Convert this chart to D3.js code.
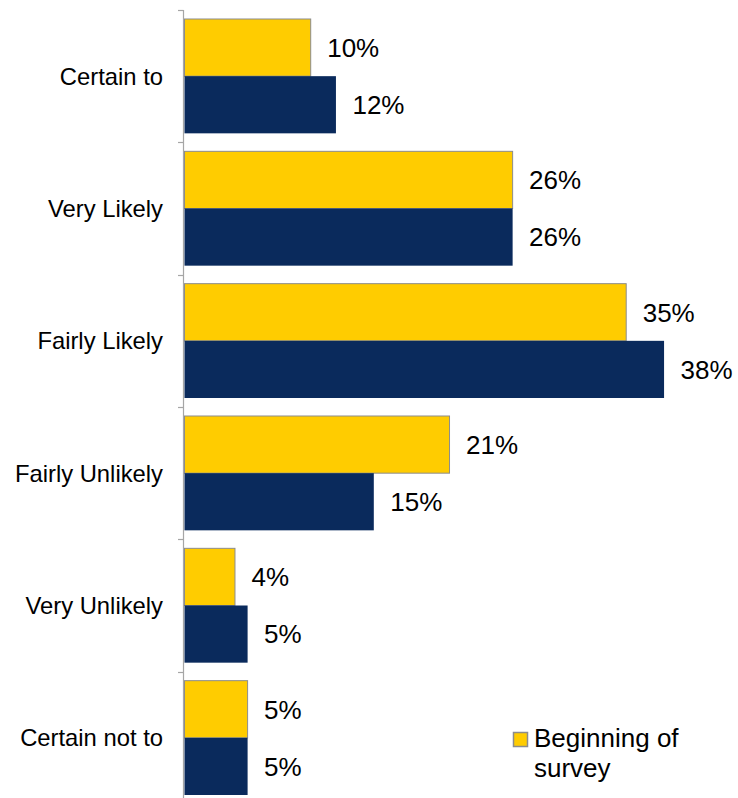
<!DOCTYPE html>
<html>
<head>
<meta charset="utf-8">
<script src="https://cdn.jsdelivr.net/npm/d3@7"></script>
<style>
  html, body { margin: 0; padding: 0; background: #fff; }
  svg { display: block; }
  text { font-family: "Liberation Sans", Arial, sans-serif; fill: #000; }
</style>
</head>
<body>
<svg id="chart" width="738" height="798"></svg>
<script>
const categories = ["Certain to", "Very Likely", "Fairly Likely", "Fairly Unlikely", "Very Unlikely", "Certain not to"];
const seriesNames = ["Beginning of survey", "End of survey"];
const beginningValues = [10, 26, 35, 21, 4, 5];
const endValues = [12, 26, 38, 15, 5, 5];
const seriesColors = ["#FFCC00", "#0A2A5C"];

const svg = d3.select("#chart");

const x = d3.scaleLinear().domain([0, 40]).range([184, 184 + 12.62 * 40]);
const y = d3.scaleBand().domain(categories).range([10, 804]).paddingInner(0.136).paddingOuter(0.068);
const ySub = d3.scaleBand().domain(seriesNames).range([0, y.bandwidth()]);

const data = categories.map((c, i) => ({
  cat: c,
  vals: [
    { s: seriesNames[0], v: beginningValues[i], color: seriesColors[0] },
    { s: seriesNames[1], v: endValues[i], color: seriesColors[1] }
  ]
}));

// Axis line with ticks at category boundaries
const axisX = 183.5;
const step = y.step();
const boundaries = d3.range(categories.length + 1).map(i => 10 + i * step);
svg.append("line")
  .attr("x1", axisX).attr("x2", axisX)
  .attr("y1", 10).attr("y2", 804)
  .attr("stroke", "#A6A6A6").attr("stroke-width", 1.2);
svg.selectAll(".tick").data(boundaries).join("line")
  .attr("x1", 178).attr("x2", axisX)
  .attr("y1", d => Math.round(d) + 0.5).attr("y2", d => Math.round(d) + 0.5)
  .attr("stroke", "#A6A6A6").attr("stroke-width", 1.2);

const groups = svg.selectAll(".grp").data(data).join("g")
  .attr("transform", d => `translate(0,${y(d.cat)})`);

groups.selectAll("rect").data(d => d.vals).join("rect")
  .attr("x", x(0) + 0.5)
  .attr("y", d => ySub(d.s))
  .attr("width", d => x(d.v) - x(0))
  .attr("height", ySub.bandwidth())
  .attr("fill", d => d.color)
  .attr("stroke", (d, i) => i === 0 ? "#8C8C8C" : "none")
  .attr("stroke-width", 1);

groups.selectAll(".val").data(d => d.vals).join("text")
  .attr("class", "val")
  .attr("x", d => x(d.v) + 17)
  .attr("y", d => ySub(d.s) + ySub.bandwidth() / 2)
  .attr("dy", "0.36em")
  .style("font-size", "26px")
  .text(d => d.v + "%");

// Category labels
svg.selectAll(".cat").data(categories).join("text")
  .attr("class", "cat")
  .attr("x", 163)
  .attr("y", d => y(d) + y.bandwidth() / 2)
  .attr("dy", "0.36em")
  .attr("text-anchor", "end")
  .style("font-size", "23.8px")
  .text(d => d);

// Legend (only first series visible)
const lg = svg.append("g").attr("transform", "translate(513,732)");
lg.append("rect").attr("x", 0.5).attr("y", 0.5).attr("width", 14).attr("height", 14)
  .attr("fill", seriesColors[0]).attr("stroke", "#8C8C8C").attr("stroke-width", 1.5);
const legWords = seriesNames[0].split(" ");
const lgText = lg.append("text").attr("x", 21).attr("y", 15).style("font-size", "26px");
lgText.append("tspan").attr("x", 21).attr("dy", 0).text(legWords.slice(0, 2).join(" "));
lgText.append("tspan").attr("x", 21).attr("dy", 30).text(legWords.slice(2).join(" "));
</script>
</body>
</html>
